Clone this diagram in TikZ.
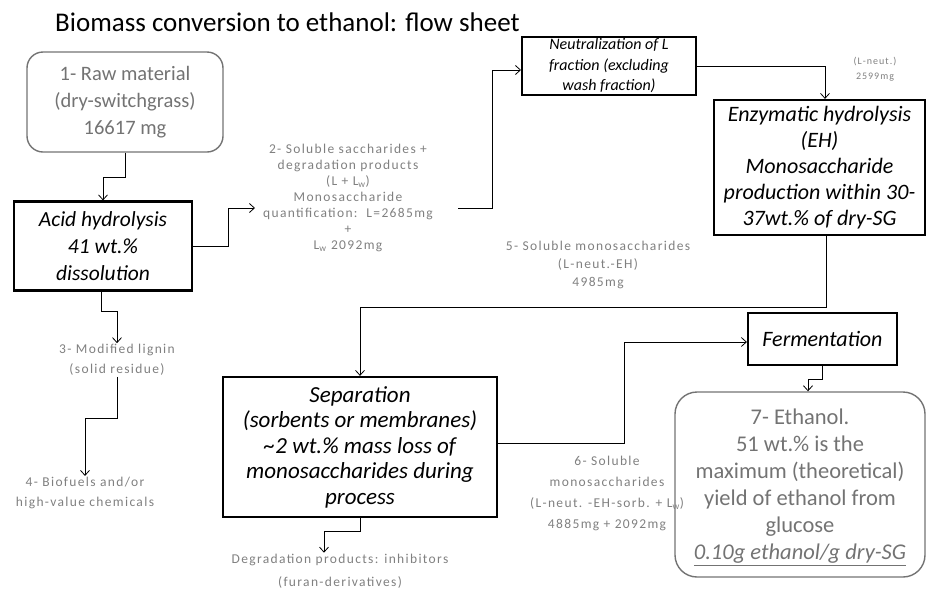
\documentclass[tikz,border=0pt]{standalone}
\usepackage{fontspec}
\setmainfont{Carlito}
\newfontfamily\lblfont[LetterSpace=10]{Carlito}
\usetikzlibrary{arrows.meta}
\begin{document}
\begin{tikzpicture}[x=1pt,y=-1pt,
  proc/.style={draw=black,line width=2.2pt,align=center,inner sep=0pt,font=\itshape\fontsize{22}{26}\selectfont},
  rbox/.style={draw=black!55,line width=1.4pt,rounded corners=16pt,align=center,inner sep=0pt,text=black!55,font=\fontsize{20.5}{27}\selectfont},
  lbl/.style={align=center,inner sep=1pt,text=black!50,font=\lblfont\fontsize{13.5}{16}\selectfont},
  arr/.style={-{Straight Barb[length=5pt,width=9pt]},line width=0.8pt}]
\useasboundingbox (0,0) rectangle (928,590);
\node[anchor=west,inner sep=0pt,font=\fontsize{27}{30}\selectfont] (title) at (55,22) {Biomass conversion to ethanol: flow sheet};

% boxes
\node[rbox,minimum width=196pt,minimum height=100pt] (raw) at (125,102) {1- Raw material\\(dry-switchgrass)\\16617 mg};
\node[proc,minimum width=178pt,minimum height=89pt,font=\itshape\fontsize{21.5}{27}\selectfont] (acid) at (103,246) {Acid hydrolysis\\41 wt.\%\\dissolution};
\node[proc,line width=2pt,minimum width=174pt,minimum height=58pt,font=\itshape\fontsize{16}{20.5}\selectfont] (neut) at (609,66) {Neutralization of L\\fraction (excluding\\wash fraction)};
\node[proc,minimum width=211pt,minimum height=135pt] (eh) at (819.5,167.5) {Enzymatic hydrolysis\\(EH)\\Monosaccharide\\production within 30-\\37wt.\% of dry-SG};
\node[proc,minimum width=274pt,minimum height=140pt,font=\itshape\fontsize{23}{25.5}\selectfont] (sep) at (360,447) {Separation\\(sorbents or membranes)\\\textasciitilde2 wt.\% mass loss of\\monosaccharides during\\process};
\node[proc,minimum width=149pt,minimum height=52pt] (ferm) at (822.5,339) {Fermentation};
\node[rbox,minimum width=250pt,minimum height=185pt,rounded corners=22pt,font=\fontsize{22.5}{27}\selectfont] (eth) at (800,484.5) {\\[-6pt]7- Ethanol.\\51 wt.\% is the\\maximum (theoretical)\\yield of ethanol from\\glucose\\\textit{\underline{0.10g ethanol/g dry-SG}}};

% labels
\node[lbl] (t2) at (348,198) {2- Soluble saccharides +\\degradation products\\(L + L\textsubscript{w})\\Monosaccharide\\quantification:\ \ L=2685mg\\+\\L\textsubscript{w} 2092mg};
\node[lbl,font=\lblfont\fontsize{10}{15}\selectfont] (lnt) at (875,69) {(L-neut.)\\2599mg};
\node[lbl,font=\lblfont\fontsize{13.5}{18}\selectfont] (t5) at (598,265) {5- Soluble monosaccharides\\(L-neut.-EH)\\4985mg};
\node[lbl,font=\lblfont\fontsize{13.5}{21}\selectfont] (t6) at (607,493) {6- Soluble\\monosaccharides\\(L-neut. -EH-sorb. + L\textsubscript{w})\\4885mg + 2092mg};
\node[lbl,font=\lblfont\fontsize{13.5}{20}\selectfont] (lig) at (117,360) {3- Modified lignin\\(solid residue)};
\node[lbl,font=\lblfont\fontsize{13.5}{20}\selectfont] (bio) at (85,493) {4- Biofuels and/or\\high-value chemicals};
\node[lbl,font=\lblfont\fontsize{13.5}{23}\selectfont] (deg) at (340,571) {Degradation products: inhibitors\\(furan-derivatives)};

\coordinate (t2in) at (255,208);
\coordinate (t2out) at (458,208);

% connectors
\draw[arr] (raw.south) -- ++(0,25) -| (acid.north);
\draw[arr] (acid.east) -- ++(35,0) |- (t2in);
\draw[arr] (t2out) -- ++(34,0) |- ([yshift=-4pt]neut.west);
\draw[arr] (neut.east) -| ([xshift=5.5pt]eh.north);
\draw[arr] ([xshift=7pt]eh.south) -- ++(0,71) -| (sep.north);
\draw[arr] ([yshift=4pt]sep.east) -- ++(126,0) |- ([yshift=-3pt]ferm.west);
\draw[arr] (ferm.south) -- ++(0,13) -| ([xshift=8pt]eth.north);
\draw[arr] (sep.south) -- ++(0,13) -| ([xshift=-16pt]deg.north);
\draw[arr] ([xshift=-2pt]acid.south) -- ++(0,20) -| (lig.north);
\draw[arr] (lig.south) -- ++(0,42) -| (bio.north);
\end{tikzpicture}
\end{document}
